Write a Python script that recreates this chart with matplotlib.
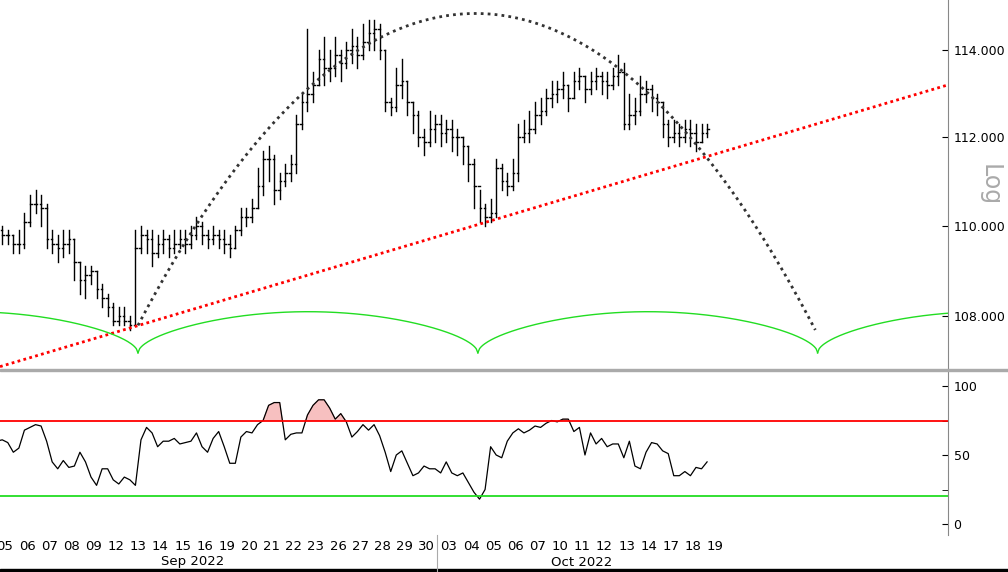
import numpy as np
import matplotlib
matplotlib.use("Agg")
import matplotlib.pyplot as plt

day_labels = ["05","06","07","08","09","12","13","14","15","16","19","20","21","22","23","26","27","28","29","30",
              "03","04","05","06","07","10","11","12","13","14","17","18","19"]
closes = [109.9,109.8,109.8,109.6, 109.6,110.1,110.5,110.5, 110.4,109.7,109.6,109.5, 109.6,109.7,109.2,108.8,
          108.9,109.0,108.6,108.4, 108.2,107.9,108.0,107.9, 107.8,109.5,109.8,109.7, 109.4,109.6,109.7,109.5,
          109.6,109.7,109.6,109.8, 110.0,109.8,109.7,109.8, 109.7,109.6,109.5,109.9, 110.2,110.2,110.4,110.9,
          111.5,111.5,110.8,111.0, 111.2,111.4,112.3,112.8, 113.0,113.2,113.8,113.6, 113.6,113.9,113.7,114.0,
          114.1,113.9,114.2,114.4, 114.5,114.0,112.8,112.7, 113.2,113.3,112.8,112.5, 112.0,111.9,112.2,112.3,
          112.1,112.2,112.0,112.0, 111.8,111.4,110.9,110.4, 110.2,110.3,111.3,111.0, 110.9,111.2,112.0,112.1,
          112.2,112.5,112.6,112.9, 113.0,113.1,113.2,112.9, 113.3,113.4,113.1,113.3, 113.4,113.3,113.2,113.4,
          113.5,112.3,112.5,112.6, 113.0,113.1,112.9,112.8, 112.3,112.0,112.1,112.0, 112.2,112.1,111.9,112.1,
          112.2]
highs = [110.1,110.0,109.9,109.8, 109.9,110.3,110.7,110.8, 110.7,110.5,109.9,109.8, 109.9,109.9,109.7,109.2,
         109.1,109.1,109.0,108.7, 108.5,108.3,108.2,108.2, 108.0,109.9,110.0,109.9, 109.9,109.8,109.9,109.8,
         109.9,109.9,109.9,110.0, 110.2,110.1,109.9,110.0, 109.9,109.9,109.8,110.0, 110.4,110.4,110.6,111.3,
         111.7,111.8,111.6,111.2, 111.4,111.6,112.5,113.0, 114.5,113.5,114.0,114.3, 114.0,114.3,114.0,114.2,
         114.5,114.3,114.6,114.7, 114.7,114.6,114.0,112.9, 113.6,113.8,113.3,112.8, 112.6,112.2,112.6,112.5,
         112.5,112.4,112.4,112.2, 112.0,111.8,111.5,110.8, 110.5,110.6,111.5,111.4, 111.2,111.5,112.3,112.4,
         112.6,112.8,112.9,113.1, 113.3,113.3,113.5,113.2, 113.5,113.6,113.4,113.5, 113.6,113.5,113.5,113.6,
         113.9,113.7,113.0,112.9, 113.4,113.3,113.2,113.0, 112.8,112.4,112.4,112.3, 112.4,112.4,112.3,112.3,
         112.3]
lows = [109.7,109.6,109.6,109.4, 109.4,109.5,110.0,110.3, 110.0,109.5,109.4,109.2, 109.3,109.4,108.8,108.5,
        108.4,108.7,108.4,108.2, 108.0,107.8,107.8,107.8, 107.7,107.8,109.4,109.4, 109.1,109.3,109.4,109.3,
        109.4,109.5,109.4,109.5, 109.7,109.6,109.5,109.6, 109.5,109.4,109.3,109.5, 109.8,110.0,110.1,110.4,
        110.7,111.0,110.5,110.6, 110.9,111.0,111.2,112.2, 112.6,112.8,113.2,113.2, 113.3,113.4,113.3,113.6,
        113.7,113.6,113.8,114.0, 114.0,113.8,112.6,112.5, 112.6,112.9,112.5,112.1, 111.8,111.6,111.8,111.9,
        111.8,111.9,111.7,111.6, 111.4,111.0,110.4,110.1, 110.0,110.1,110.2,110.8, 110.7,110.8,111.0,111.9,
        111.9,112.1,112.3,112.5, 112.7,112.8,112.9,112.6, 112.9,113.1,112.8,113.0, 113.1,113.0,112.9,113.1,
        113.2,112.2,112.2,112.3, 112.5,112.8,112.6,112.5, 112.0,111.8,111.9,111.8, 111.9,111.8,111.7,111.9,
        112.0]
rsi = [60,61,59,52, 55,68,70,72, 71,60,45,40, 46,41,42,52, 45,34,28,40, 40,32,29,34, 32,28,61,70,
       66,56,60,60, 62,58,59,60, 66,56,52,62, 67,56,44,44, 63,67,66,72, 75,86,88,88, 61,65,66,66,
       79,86,90,90, 84,76,80,74, 63,67,72,68, 72,64,52,38, 50,53,44,35, 37,42,40,40, 37,45,37,35,
       37,30,23,18, 25,56,50,48, 60,66,69,66, 68,71,70,73, 75,74,76,76, 67,70,50,66, 58,62,56,58,
       58,48,60,42, 40,52,59,58, 53,51,35,35, 38,35,41,40, 45]
rsi_hi, rsi_lo = 75, 20
y_ticks = [108, 110, 112, 114]

W, H = 1008, 572
fig = plt.figure(figsize=(W/100, H/100), dpi=100)
axw = 948/W
ax = fig.add_axes([0, 1-368/H, axw, 368/H])
ax2 = fig.add_axes([0, 1-535/H, axw, (535-372)/H])
xlim = (-5/22.2, 943/22.2)

n = len(closes)
xs = np.array([i//4 - 0.375 + (i % 4)*0.25 for i in range(n)])
opens = [closes[0]] + closes[:-1]
for x, o, h, l, c in zip(xs, opens, highs, lows, closes):
    ax.plot([x, x], [l, h], color='black', lw=1.0)
    ax.plot([x-0.07, x], [o, o], color='black', lw=1.0)
    ax.plot([x, x+0.07], [c, c], color='black', lw=1.0)

ax.set_yscale('log')
ax.set_ylim(106.87, 115.17)
ax.set_xlim(*xlim)
ax.plot(xlim, [106.9, 113.2], color='red', lw=2, ls=(0, (1, 1.2)))
px = np.array([5.99, 21.6, 36.5]); py = np.array([107.8, 114.85, 107.7])
cf = np.polyfit(px, py, 2)
tx = np.linspace(5.99, 36.5, 300)
ax.plot(tx, np.polyval(cf, tx), color='#333333', lw=2, ls=(0, (1, 1.5)))
cusps = [5.99, 21.3, 36.6]
period = cusps[1]-cusps[0]
for c0 in [cusps[0]-period] + cusps:
    t = np.linspace(0, 1, 200)
    ax.plot(c0 + t*period, 107.2 + 0.9*np.sin(np.pi*t)**0.55, color='#22dd22', lw=1)

for a in (ax, ax2):
    a.spines['left'].set_visible(False)
    a.spines['top'].set_visible(False)
    a.spines['bottom'].set_visible(False)
    a.spines['right'].set_color('#888888')
    a.yaxis.tick_right()
    a.set_xticks([])
    a.tick_params(axis='y', which='both', direction='in', length=4, labelsize=9, colors='black', pad=4)

ax.set_yticks(y_ticks)
ax.set_yticklabels([f"{v:.3f}" for v in y_ticks])
ax.yaxis.set_minor_locator(matplotlib.ticker.NullLocator())
fig.text(990/W, 1-185/H, "Log", rotation=270, color='#aaaaaa', fontsize=17, ha='center', va='center')

rx = xs[:len(rsi)]
ra = np.array(rsi, dtype=float)
ax2.plot(rx, ra, color='black', lw=0.9)
ax2.fill_between(rx, rsi_hi, ra, where=ra > rsi_hi, interpolate=True, color='#f7c0c0', edgecolor='#e08080', lw=0.5)
ax2.axhline(rsi_hi, color='red', lw=1.3)
ax2.axhline(rsi_lo, color='#22dd22', lw=1.3)
ax2.set_xlim(*xlim)
ax2.set_ylim(100 - (535-386)*50/69, 100 + (386-372)*50/69)
ax2.set_yticks([0, 50, 100])
ax2.set_yticks([25, 75], minor=True)

fig.patches.append(plt.Rectangle((0, 1-371/H), 1, 2/H, transform=fig.transFigure, color='#aaaaaa'))
fig.patches.append(plt.Rectangle((0, 0), 1, 3/H, transform=fig.transFigure, color='black'))
for i, lab in enumerate(day_labels):
    fig.text((5+22.2*i)/W, 1-546/H, lab, ha='center', va='center', fontsize=9.5)
fig.text(193/W, 1-562/H, "Sep 2022", ha='center', va='center', fontsize=9.5)
fig.text(582/W, 1-562/H, "Oct 2022", ha='center', va='center', fontsize=9.5)
fig.lines.append(plt.Line2D([437/W, 437/W], [0, 1-535/H], transform=fig.transFigure, color='#aaaaaa', lw=0.8))

fig.savefig("out.png", dpi=100)
